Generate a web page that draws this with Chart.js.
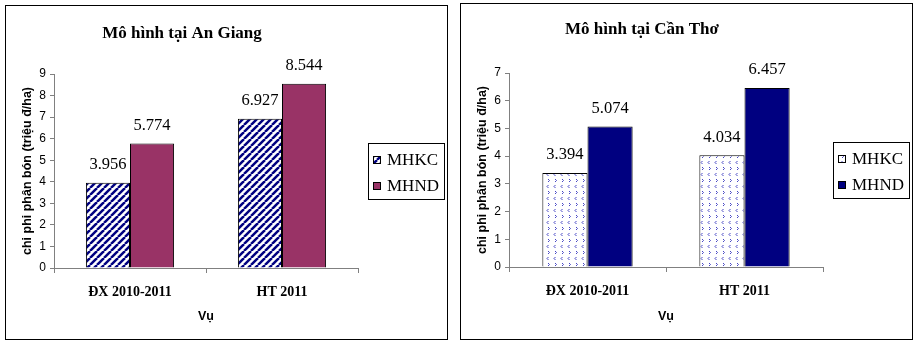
<!DOCTYPE html>
<html>
<head>
<meta charset="utf-8">
<script src="https://cdn.jsdelivr.net/npm/chart.js@4/dist/chart.umd.min.js"></script>
<style>
  html, body { margin: 0; padding: 0; background: #fff; }
  body { width: 914px; height: 341px; position: relative; overflow: hidden; }
  .panel { position: absolute; border: 1px solid #000; box-sizing: border-box; background: #fff; }
  .panel canvas { display: block; }
</style>
</head>
<body>
<div class="panel" style="left:5px; top:5px; width:443px; height:335px;">
  <canvas id="chartAnGiang" width="441" height="333"></canvas>
</div>
<div class="panel" style="left:460px; top:3px; width:453px; height:337px;">
  <canvas id="chartCanTho" width="451" height="335"></canvas>
</div>
<script>
// Seasons and series
const categories = ['ĐX 2010-2011', 'HT 2011'];
const seriesNames = ['MHKC', 'MHND'];

// Fertilizer cost (million đ/ha)
const anGiangMHKC = [3.956, 6.927];
const anGiangMHND = [5.774, 8.544];
const canThoMHKC = [3.394, 4.034];
const canThoMHND = [5.074, 6.457];

// Value-axis limits
const anGiangMax = 9;
const canThoMax = 7;
const tickStep = 1;

const SERIF = '"Liberation Serif", "Times New Roman", serif';
const SANS = '"Liberation Sans", Arial, sans-serif';

// Navy diagonal stripes on white
function hatchPattern() {
  const s = 7;
  const c = document.createElement('canvas');
  c.width = s; c.height = s;
  const g = c.getContext('2d');
  g.fillStyle = '#fff';
  g.fillRect(0, 0, s, s);
  g.strokeStyle = '#000080';
  g.lineWidth = 2.5;
  for (const k of [-s, 0, s]) {
    g.beginPath();
    g.moveTo(k, s);
    g.lineTo(k + s, 0);
    g.stroke();
  }
  return g.createPattern(c, 'repeat');
}

// Small blue chevrons on white, alternating rows
function chevronPattern() {
  const w = 7, h = 12;
  const c = document.createElement('canvas');
  c.width = w; c.height = h;
  const g = c.getContext('2d');
  g.fillStyle = '#fff';
  g.fillRect(0, 0, w, h);
  g.strokeStyle = '#4646c4';
  g.lineWidth = 1;
  g.beginPath();
  g.moveTo(3.5, 1); g.lineTo(2, 2.5); g.lineTo(3.5, 4);
  g.moveTo(3, 7); g.lineTo(4.5, 8.5); g.lineTo(3, 10);
  g.stroke();
  return g.createPattern(c, 'repeat');
}

// Value printed above each bar
const valueLabels = {
  id: 'valueLabels',
  afterDatasetsDraw(chart) {
    const ctx = chart.ctx;
    ctx.save();
    ctx.font = '16.5px ' + SERIF;
    ctx.fillStyle = '#000';
    ctx.textAlign = 'center';
    ctx.textBaseline = 'middle';
    chart.data.datasets.forEach((ds, i) => {
      chart.getDatasetMeta(i).data.forEach((bar, j) => {
        ctx.fillText(ds.data[j].toFixed(3), bar.x, bar.y - 18);
      });
    });
    ctx.restore();
  }
};

// Framed legend to the right of the plot
const boxedLegend = {
  id: 'boxedLegend',
  afterDraw(chart) {
    const ctx = chart.ctx;
    const area = chart.chartArea;
    const w = 76, h = 56;
    const x = area.right + 10;
    const y = Math.round((area.top + area.bottom) / 2 - h / 2);
    ctx.save();
    ctx.strokeStyle = '#000';
    ctx.lineWidth = 1;
    ctx.strokeRect(x + 0.5, y + 0.5, w, h);
    ctx.font = '17px ' + SERIF;
    ctx.textBaseline = 'middle';
    ctx.textAlign = 'left';
    chart.data.datasets.forEach((ds, i) => {
      const cy = y + 17 + i * 26;
      ctx.fillStyle = ds.backgroundColor;
      ctx.fillRect(x + 5, cy - 4, 8, 8);
      ctx.strokeStyle = '#000';
      ctx.strokeRect(x + 5.5, cy - 3.5, 7, 7);
      ctx.fillStyle = '#000';
      ctx.fillText(ds.label, x + 19, cy + 1);
    });
    ctx.restore();
  }
};

function makeChart(id, title, kc, nd, kcFill, ndFill, yMax, catPct, box) {
  return new Chart(document.getElementById(id), {
    type: 'bar',
    data: {
      labels: categories,
      datasets: [
        { label: seriesNames[0], data: kc, backgroundColor: kcFill, borderColor: '#000', borderWidth: 1 },
        { label: seriesNames[1], data: nd, backgroundColor: ndFill, borderColor: '#000', borderWidth: 1 }
      ]
    },
    options: {
      responsive: false,
      animation: false,
      events: [],
      datasets: { bar: { categoryPercentage: catPct, barPercentage: 1.0 } },
      layout: { autoPadding: false, padding: { left: 0, right: 89, top: 0, bottom: 0 } },
      plugins: {
        legend: { display: false },
        tooltip: { enabled: false },
        title: {
          display: true,
          text: title,
          color: '#000',
          font: { family: SERIF, size: 17, weight: 'bold' },
          padding: { top: box.titleTop, bottom: box.titleBottom }
        }
      },
      scales: {
        x: {
          grid: { display: true, drawOnChartArea: false, drawTicks: true, tickLength: 5, color: '#808080', offset: true },
          border: { color: '#808080' },
          ticks: { color: '#000', font: { family: SERIF, size: 14, weight: 'bold' }, padding: 11, maxRotation: 0 },
          title: { display: true, text: 'Vụ', color: '#000', font: { family: SANS, size: 12.5, weight: 'bold' }, padding: { top: 0, bottom: 14.5 } },
          afterFit: s => { s.height = box.xHeight; }
        },
        y: {
          min: 0,
          max: yMax,
          ticks: { stepSize: tickStep, color: '#000', font: { family: SANS, size: 12 }, padding: 4 },
          grid: { drawOnChartArea: false, drawTicks: true, tickLength: 4, color: '#808080' },
          border: { color: '#808080' },
          title: { display: true, text: 'chi phi phân bón (triệu đ/ha)', color: '#000', font: { family: SANS, size: 12.5, weight: 'bold' }, padding: { top: 14.5, bottom: 0 } },
          afterFit: s => { s.width = 48; }
        }
      }
    },
    plugins: [valueLabels, boxedLegend]
  });
}

makeChart('chartAnGiang', 'Mô hình tại An Giang', anGiangMHKC, anGiangMHND,
  hatchPattern(), '#993366', anGiangMax, 0.58,
  { titleTop: 17.8, titleBottom: 29.8, xHeight: 71 });

makeChart('chartCanTho', 'Mô hình tại Cần Thơ', canThoMHKC, canThoMHND,
  chevronPattern(), '#000080', canThoMax, 0.575,
  { titleTop: 15.8, titleBottom: 32.8, xHeight: 72 });
</script>
</body>
</html>
